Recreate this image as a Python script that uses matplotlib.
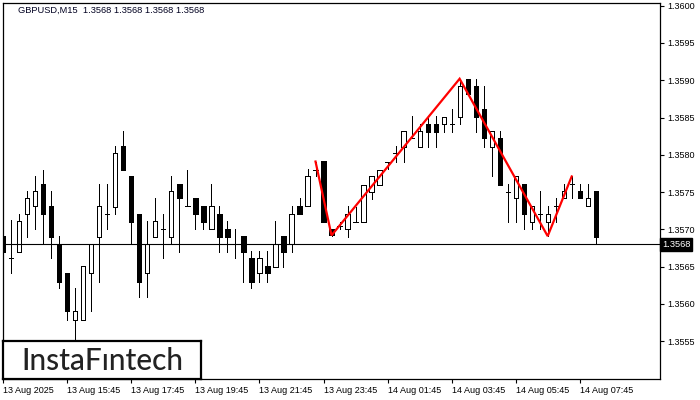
import matplotlib
matplotlib.use("Agg")
import matplotlib.pyplot as plt
import numpy as np

# ---------------- data ----------------
opens = [1.35691, 1.35661, 1.35670, 1.35721, 1.35731, 1.35761, 1.35731, 1.35681, 1.35641, 1.35579,
         1.35579, 1.35641, 1.35690, 1.35721, 1.35730, 1.35812, 1.35771, 1.35721, 1.35641, 1.35690,
         1.35701, 1.35690, 1.35761, 1.35731, 1.35742, 1.35731, 1.35701, 1.35721, 1.35701, 1.35681,
         1.35691, 1.35661, 1.35641, 1.35651, 1.35650, 1.35691, 1.35681, 1.35731, 1.35731, 1.35780,
         1.35792, 1.35701, 1.35704, 1.35701, 1.35710, 1.35710, 1.35750, 1.35760, 1.35791, 1.35802,
         1.35811, 1.35822, 1.35811, 1.35842, 1.35842, 1.35842, 1.35842, 1.35851, 1.35902, 1.35892,
         1.35862, 1.35811, 1.35822, 1.35750, 1.35742, 1.35761, 1.35710, 1.35721, 1.35710, 1.35731,
         1.35742, 1.35761, 1.35751, 1.35731, 1.35751, 1.35680]
highs = [1.35712, 1.35712, 1.35721, 1.35751, 1.35771, 1.35780, 1.35751, 1.35691, 1.35641, 1.35621,
         1.35651, 1.35681, 1.35761, 1.35761, 1.35812, 1.35832, 1.35771, 1.35721, 1.35711, 1.35742,
         1.35721, 1.35771, 1.35761, 1.35780, 1.35742, 1.35731, 1.35761, 1.35731, 1.35711, 1.35701,
         1.35691, 1.35671, 1.35671, 1.35671, 1.35711, 1.35691, 1.35731, 1.35742, 1.35781, 1.35791,
         1.35792, 1.35701, 1.35710, 1.35731, 1.35730, 1.35760, 1.35771, 1.35780, 1.35791, 1.35812,
         1.35832, 1.35852, 1.35842, 1.35852, 1.35852, 1.35851, 1.35862, 1.35902, 1.35902, 1.35902,
         1.35892, 1.35832, 1.35832, 1.35761, 1.35771, 1.35761, 1.35731, 1.35751, 1.35731, 1.35742,
         1.35761, 1.35771, 1.35761, 1.35761, 1.35751, 1.35680]
lows = [1.35670, 1.35641, 1.35670, 1.35690, 1.35701, 1.35681, 1.35661, 1.35621, 1.35579, 1.35548,
        1.35579, 1.35590, 1.35630, 1.35701, 1.35721, 1.35780, 1.35681, 1.35610, 1.35610, 1.35690,
        1.35661, 1.35681, 1.35670, 1.35731, 1.35701, 1.35701, 1.35701, 1.35670, 1.35670, 1.35661,
        1.35630, 1.35621, 1.35630, 1.35630, 1.35650, 1.35650, 1.35670, 1.35721, 1.35731, 1.35771,
        1.35710, 1.35691, 1.35701, 1.35690, 1.35710, 1.35710, 1.35741, 1.35760, 1.35781, 1.35791,
        1.35791, 1.35822, 1.35811, 1.35811, 1.35811, 1.35831, 1.35831, 1.35841, 1.35882, 1.35831,
        1.35811, 1.35771, 1.35759, 1.35710, 1.35710, 1.35701, 1.35701, 1.35701, 1.35691, 1.35710,
        1.35742, 1.35742, 1.35742, 1.35731, 1.35681, 1.35680]
closes = [1.35670, 1.35661, 1.35711, 1.35742, 1.35751, 1.35721, 1.35690, 1.35630, 1.35590, 1.35590,
          1.35651, 1.35681, 1.35731, 1.35721, 1.35802, 1.35780, 1.35710, 1.35630, 1.35681, 1.35711,
          1.35701, 1.35751, 1.35742, 1.35731, 1.35721, 1.35710, 1.35731, 1.35690, 1.35690, 1.35681,
          1.35670, 1.35630, 1.35661, 1.35641, 1.35681, 1.35670, 1.35721, 1.35721, 1.35771, 1.35780,
          1.35710, 1.35692, 1.35704, 1.35721, 1.35710, 1.35760, 1.35771, 1.35780, 1.35791, 1.35802,
          1.35832, 1.35822, 1.35832, 1.35831, 1.35831, 1.35851, 1.35842, 1.35892, 1.35882, 1.35851,
          1.35822, 1.35832, 1.35759, 1.35750, 1.35771, 1.35721, 1.35731, 1.35721, 1.35721, 1.35731,
          1.35751, 1.35761, 1.35742, 1.35742, 1.35690, 1.35680]

pattern_idx = [39, 41, 57, 68, 71]
pattern_price = [1.35791, 1.35692, 1.35902, 1.35691, 1.35771]

bid_price = 1.3568
y_ticks = [1.3555, 1.3560, 1.3565, 1.3570, 1.3575, 1.3580, 1.3585, 1.3590, 1.3595, 1.3600]
x_tick_idx = [0, 8, 16, 24, 32, 40, 48, 56, 64, 72]
x_tick_labels = ["13 Aug 2025", "13 Aug 15:45", "13 Aug 17:45", "13 Aug 19:45", "13 Aug 21:45",
                 "13 Aug 23:45", "14 Aug 01:45", "14 Aug 03:45", "14 Aug 05:45", "14 Aug 07:45"]
title_text = "GBPUSD,M15  1.3568 1.3568 1.3568 1.3568"
logo_text = "InstaF\u0131ntech"

# ---------------- figure ----------------
W, H = 700, 400
fig = plt.figure(figsize=(7, 4), dpi=100)
fig.patch.set_facecolor("white")
ax = fig.add_axes([2.5 / W, 1 - 379.3 / H, (660 - 2.5) / W, (379.3 - 2.7) / H])
ax.set_facecolor("white")

o = np.array(opens); h = np.array(highs); l = np.array(lows); c = np.array(closes)
x = np.arange(len(o))
bw = 0.52
lw = 0.72

ax.vlines(x, l, h, color="black", linewidth=lw, zorder=2, antialiased=False)
flat = np.abs(c - o) < 5e-6
up = (c > o) & ~flat
dn = (c < o) & ~flat
ax.bar(x[up], (c - o)[up], bottom=o[up], width=bw, color="white", edgecolor="black",
       linewidth=lw, zorder=3, antialiased=False)
ax.bar(x[dn], (o - c)[dn], bottom=c[dn], width=bw, color="black", edgecolor="black",
       linewidth=lw, zorder=3, antialiased=False)
ax.hlines(o[flat], x[flat] - bw / 2, x[flat] + bw / 2, color="black", linewidth=lw, zorder=3,
          antialiased=False)

ax.axhline(bid_price, color="black", linewidth=0.8, zorder=4)
ax.plot(pattern_idx, pattern_price, color="#ff0000", linewidth=1.6, zorder=5,
        solid_joinstyle="miter")

ax.set_xlim(-0.1, 82.03)
ax.set_ylim(1.35499, 1.36004)

font = "Liberation Sans"
ax.yaxis.tick_right()
ax.set_yticks(y_ticks)
ax.set_yticklabels([f"{v:.4f}" for v in y_ticks], fontsize=6.5, family=font)
ax.tick_params(axis="y", direction="out", length=3, width=0.8, pad=2, colors="black")
ax.set_xticks(x_tick_idx)
ax.set_xticklabels(x_tick_labels, fontsize=6.5, family=font)
for lab in ax.get_xticklabels():
    lab.set_horizontalalignment("left")
ax.tick_params(axis="x", direction="out", length=3, width=0.8, pad=2, colors="black")
for s in ax.spines.values():
    s.set_linewidth(0.9)
    s.set_color("black")

fig.text(18 / W, 1 - 10.5 / H, title_text, fontsize=6.7, family=font, color="#000020",
         ha="left", va="center")

# bid price label on right axis
ax.text(1.003, bid_price, "1.3568", transform=ax.get_yaxis_transform(), fontsize=6.7,
        family=font, color="white", ha="left", va="center", zorder=10, clip_on=False,
        bbox=dict(boxstyle="square,pad=0.22", facecolor="black", edgecolor="black"))

# logo box
lax = fig.add_axes([3 / W, 1 - 378.7 / H, 198 / W, 38 / H])
lax.set_xticks([]); lax.set_yticks([])
lax.set_facecolor("white")
for s in lax.spines.values():
    s.set_linewidth(1.6)
    s.set_color("black")
lax.text(0.5, 0.47, logo_text, transform=lax.transAxes, fontsize=21.5, family="Lato",
         weight="medium", color="#222222", ha="center", va="center")

fig.savefig("out.png", dpi=100)
